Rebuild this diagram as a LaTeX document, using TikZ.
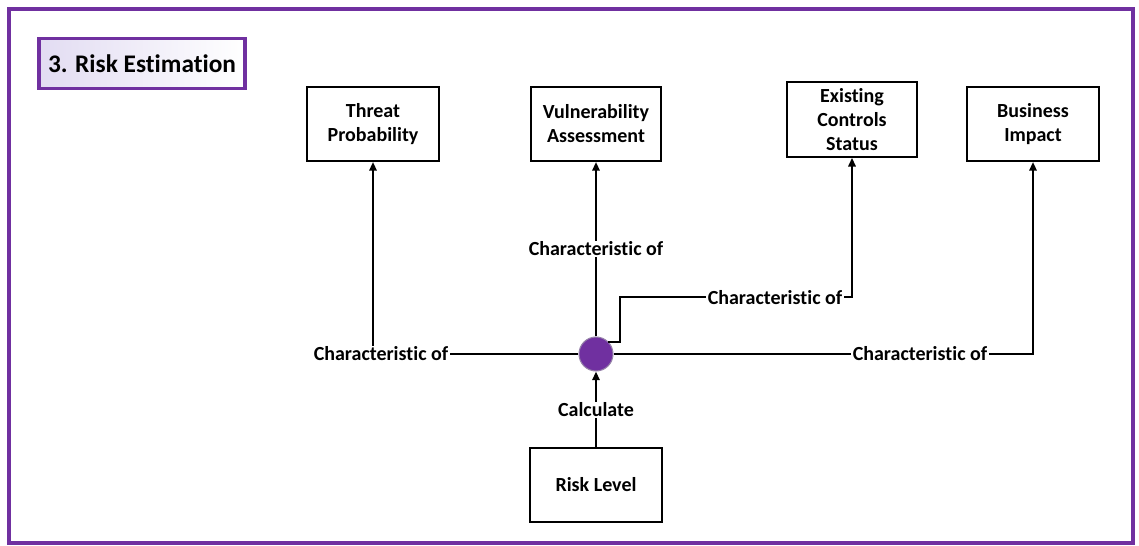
\documentclass[tikz,border=0pt]{standalone}
\usepackage{fontspec}
\setmainfont[Ligatures=NoCommon]{Carlito}
\usepackage{tikz}
\usetikzlibrary{arrows.meta,positioning}
\definecolor{rePurple}{RGB}{112,48,160}
\definecolor{rePurpleLight}{RGB}{226,220,242}
\definecolor{reHubEdge}{RGB}{150,130,170}

\begin{document}
\begin{tikzpicture}[x=0.75pt,y=-0.75pt,
  box/.style={draw=black, line width=1.5pt, fill=white, align=center,
    font=\bfseries\fontsize{15}{18}\selectfont,
    minimum width=99.5pt, minimum height=55.5pt, inner sep=2pt},
  lbl/.style={fill=white, inner sep=1pt, font=\bfseries\fontsize{15}{18}\selectfont},
  link/.style={line width=1.5pt},
  arr/.style={link, -{Triangle[length=6.5pt,width=5.5pt]}}]
\useasboundingbox (0,0) rectangle (1139,546);
\draw[rePurple, line width=3pt] (9,9) rectangle (1133,543);

% heading
\node[draw=rePurple, line width=2.4pt, left color=rePurpleLight, right color=white,
  minimum width=154.5pt, minimum height=38pt, inner sep=2pt,
  font=\bfseries\fontsize{19}{22}\selectfont] (title) at (142,63.5) {3. Risk Estimation};

% factors
\node[box] (threat) at (373,124) {Threat\\Probability};
\node[box, minimum width=97.5pt] (vuln) at (596,124) {Vulnerability\\Assessment};
\node[box, minimum width=98pt, minimum height=56pt] (ctrl) at (852,119.5) {Existing\\Controls\\Status};
\node[box] (biz) at (1033,124) {Business\\Impact};
\node[box] (risk) at (596,485) {Risk Level};

\node[circle, fill=rePurple, draw=reHubEdge, line width=0.8pt, minimum size=25.5pt, inner sep=0pt] (hub) at (596,354) {};
\coordinate (ctrlbend) at (620,297);

% connectors
\draw[arr] (hub.west) -| (threat.south);
\draw[arr] (hub.north) -- (vuln.south);
\draw[arr] (hub.45) -| (ctrlbend) -| (ctrl.south);
\draw[arr] (hub.east) -| (biz.south);
\draw[arr] (risk.north) -- (hub.south);

\node[lbl] (lthreat) at (381,354) {Characteristic of};
\node[lbl] (lvuln) at (596,249) {Characteristic of};
\node[lbl] (lctrl) at (775,298) {Characteristic of};
\node[lbl] (lbiz) at (920,354) {Characteristic of};
\node[lbl] (lcalc) at (596,410) {Calculate};
\end{tikzpicture}
\end{document}
